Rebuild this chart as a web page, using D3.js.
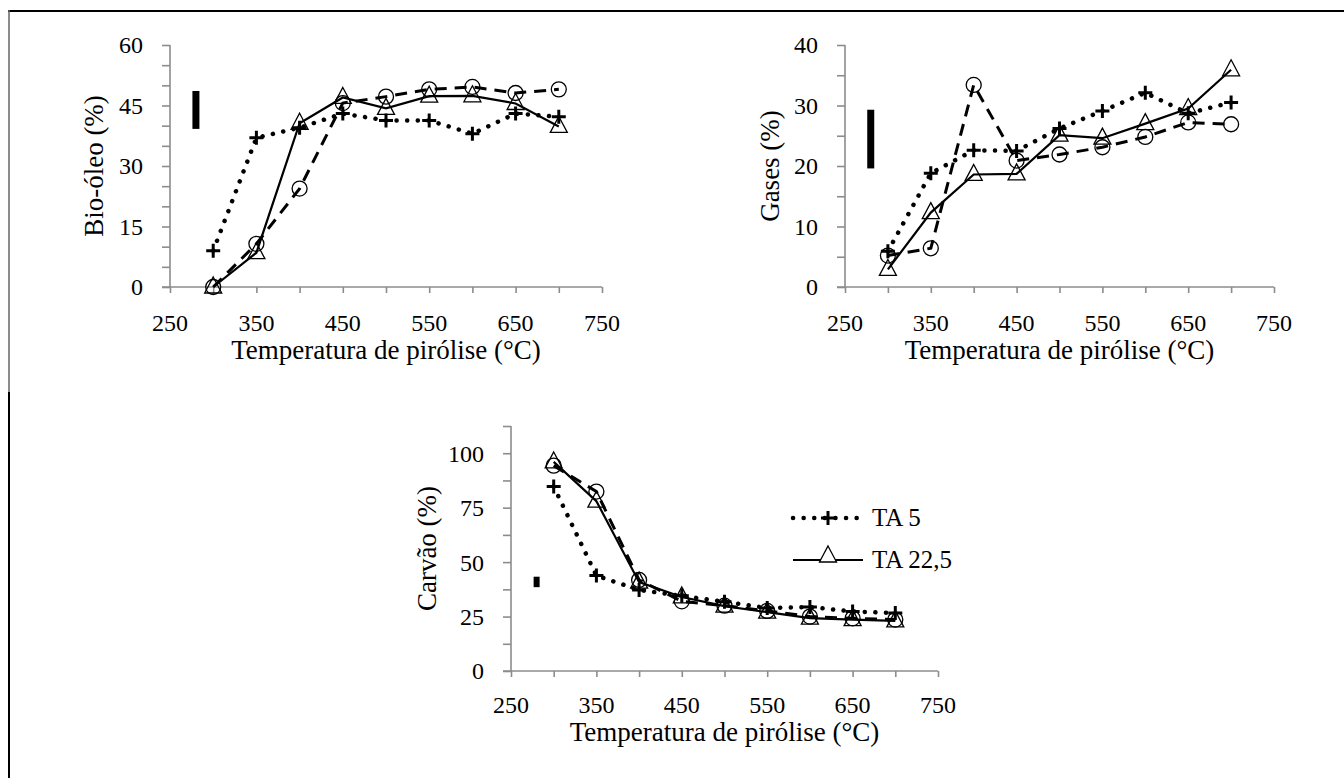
<!DOCTYPE html>
<html>
<head>
<meta charset="utf-8">
<script src="https://cdn.jsdelivr.net/npm/d3@7"></script>
<style>
  body { margin: 0; background: #fff; }
  text { font-family: "Liberation Serif", "Times New Roman", serif; fill: #000; }
</style>
</head>
<body>
<div id="chart"></div>
<script>
// temperatures (x values) shared by all panels
var temps = [300, 350, 400, 450, 500, 550, 600, 650, 700];

// Bio-óleo (%)
var bioTA5  = [9, 37, 39.5, 43, 41.3, 41.3, 38, 43, 42.2];
var bioTA22 = [0, 8.5, 40.6, 47, 44.3, 47.3, 47.4, 45.5, 39.8];
var bioTA40 = [0, 10.7, 24.4, 45.6, 47.2, 49, 49.6, 48.1, 49];

// Gases (%)
var gasTA5  = [5.9, 18.8, 22.6, 22.5, 26.2, 29.1, 32.1, 28.7, 30.5];
var gasTA22 = [2.9, 12.3, 18.6, 18.7, 25.1, 24.6, 27, 29.5, 35.9];
var gasTA40 = [5.2, 6.4, 33.4, 20.9, 21.9, 23.1, 24.8, 27.2, 26.9];

// Carvão (%)
var charTA5  = [84.7, 43.8, 37.2, 34.5, 31.8, 28.9, 29.4, 27.3, 26.6];
var charTA22 = [96, 78, 40.8, 34, 29.8, 27, 24.3, 23.6, 23];
var charTA40 = [94.3, 82.4, 41.8, 32, 30, 27.6, 25, 24.2, 23.6];

// vertical bars drawn at the left of each plot [x, low, high]
var bioBar  = [280, 39.2, 48.6];
var gasBar  = [280, 19.6, 29.3];
var charBar = [280, 38.5, 43.3];

var xTicks = [250, 350, 450, 550, 650, 750];
var legendNames = ["TA 5", "TA 22,5"];

var svg = d3.select("#chart").append("svg")
    .attr("width", 1344)
    .attr("height", 778);

// outer frame (top + left edges only)
svg.append("line").attr("x1", 8).attr("x2", 1344).attr("y1", 11).attr("y2", 11)
    .attr("stroke", "#000").attr("stroke-width", 2);
svg.append("line").attr("x1", 9).attr("x2", 9).attr("y1", 10).attr("y2", 392)
    .attr("stroke", "#666").attr("stroke-width", 1.5);
svg.append("line").attr("x1", 9).attr("x2", 9).attr("y1", 392).attr("y2", 778)
    .attr("stroke", "#000").attr("stroke-width", 2);

function panel(opt) {
    var x = d3.scaleLinear().domain([250, 750]).range([opt.x0, opt.x1]);
    var y = d3.scaleLinear().domain([0, opt.ymax]).range([opt.y0, opt.y1]);
    var g = svg.append("g");

    // x axis: ticks every 50, labels every 100
    var xAxis = d3.axisBottom(x)
        .tickValues(d3.range(250, 751, 50))
        .tickSize(6)
        .tickFormat("");
    g.append("g")
        .attr("transform", "translate(0," + opt.y0 + ")")
        .call(xAxis)
        .call(function(s) {
            s.select(".domain").attr("stroke", "#8c8c8c").attr("stroke-width", 1.6)
                .attr("d", "M" + (opt.x0 - 8) + ",0H" + opt.x1);
            s.selectAll(".tick line").attr("stroke", "#8c8c8c").attr("stroke-width", 1.6);
        });
    g.selectAll(".xlab").data(xTicks).enter().append("text")
        .attr("x", function(d) { return x(d); })
        .attr("y", opt.labY)
        .attr("text-anchor", "middle")
        .style("font-size", "24px")
        .text(function(d) { return d; });
    g.append("text")
        .attr("x", (opt.x0 + opt.x1) / 2)
        .attr("y", opt.titleY)
        .attr("text-anchor", "middle")
        .style("font-size", "27px")
        .text("Temperatura de pirólise (°C)");

    // y axis: minor ticks + labelled ticks
    var yAxis = d3.axisLeft(y)
        .tickValues(d3.range(0, opt.ymax + 0.001, opt.ystep))
        .tickSize(8)
        .tickFormat("");
    g.append("g")
        .attr("transform", "translate(" + opt.x0 + ",0)")
        .call(yAxis)
        .call(function(s) {
            s.select(".domain").attr("stroke", "#8c8c8c").attr("stroke-width", 1.6)
                .attr("d", "M0," + opt.y1 + "V" + opt.y0);
            s.selectAll(".tick line").attr("stroke", "#8c8c8c").attr("stroke-width", 1.6);
        });
    g.selectAll(".ylab").data(d3.range(0, opt.ymax + 0.001, opt.ylabStep)).enter().append("text")
        .attr("x", opt.x0 - 27)
        .attr("y", function(d) { return y(d); })
        .attr("dy", "0.35em")
        .attr("text-anchor", "end")
        .style("font-size", "24px")
        .text(function(d) { return d; });
    g.append("text")
        .attr("transform", "translate(" + opt.ytitleX + "," + (opt.y0 + opt.y1) / 2 + ") rotate(-90)")
        .attr("text-anchor", "middle")
        .style("font-size", "27px")
        .text(opt.ytitle);

    // bar
    g.append("rect")
        .attr("x", x(opt.bar[0]) - opt.barW / 2)
        .attr("y", y(opt.bar[2]))
        .attr("width", opt.barW)
        .attr("height", y(opt.bar[1]) - y(opt.bar[2]))
        .attr("fill", "#000");

    var line = d3.line()
        .x(function(d) { return x(d[0]); })
        .y(function(d) { return y(d[1]); });

    // dashed - circles
    var s3 = d3.zip(temps, opt.s3);
    g.append("path").datum(s3).attr("d", line)
        .attr("fill", "none").attr("stroke", "#000").attr("stroke-width", 3)
        .attr("stroke-dasharray", "12,8");
    g.selectAll(".circ").data(s3).enter().append("circle")
        .attr("cx", function(d) { return x(d[0]); })
        .attr("cy", function(d) { return y(d[1]); })
        .attr("r", 7.5)
        .attr("fill", "none").attr("stroke", "#000").attr("stroke-width", 1.3);

    // solid - triangles
    var s2 = d3.zip(temps, opt.s2);
    g.append("path").datum(s2).attr("d", line)
        .attr("fill", "none").attr("stroke", "#000").attr("stroke-width", 2.2);
    g.selectAll(".tri").data(s2).enter().append("path")
        .attr("d", triangle)
        .attr("transform", function(d) { return "translate(" + x(d[0]) + "," + y(d[1]) + ")"; })
        .attr("fill", "none").attr("stroke", "#000").attr("stroke-width", 1.3);

    // dotted - plus
    var s1 = d3.zip(temps, opt.s1);
    g.append("path").datum(s1).attr("d", line)
        .attr("fill", "none").attr("stroke", "#000").attr("stroke-width", 4.5)
        .attr("stroke-linecap", "round")
        .attr("stroke-dasharray", "0.1,10.5");
    g.selectAll(".plus").data(s1).enter().append("path")
        .attr("d", plus)
        .attr("transform", function(d) { return "translate(" + x(d[0]) + "," + y(d[1]) + ")"; })
        .attr("fill", "none").attr("stroke", "#000").attr("stroke-width", 3);

    return g;
}

var triangle = "M0,-10L8.5,6H-8.5Z";
var plus = "M-7,0H7M0,-7V7";

panel({ x0: 170, x1: 602, y0: 287, y1: 45, ymax: 60, ystep: 5, ylabStep: 15,
        labY: 331, titleY: 359, ytitle: "Bio-óleo (%)", ytitleX: 103,
        bar: bioBar, barW: 7, s1: bioTA5, s2: bioTA22, s3: bioTA40 });

panel({ x0: 845, x1: 1274, y0: 287, y1: 45, ymax: 40, ystep: 5, ylabStep: 10,
        labY: 331, titleY: 359, ytitle: "Gases (%)", ytitleX: 779,
        bar: gasBar, barW: 7, s1: gasTA5, s2: gasTA22, s3: gasTA40 });

var p3 = panel({ x0: 511, x1: 938, y0: 671, y1: 426, ymax: 112.5, ystep: 12.5, ylabStep: 25,
        labY: 713, titleY: 741, ytitle: "Carvão (%)", ytitleX: 436,
        bar: charBar, barW: 6, s1: charTA5, s2: charTA22, s3: charTA40 });

// legend (inside the Carvão panel)
var lg = p3.append("g").attr("transform", "translate(793,518)");
lg.append("line").attr("x1", 0).attr("x2", 70).attr("y1", 0).attr("y2", 0)
    .attr("stroke", "#000").attr("stroke-width", 4.5)
    .attr("stroke-linecap", "round").attr("stroke-dasharray", "0.1,10.5");
lg.append("path").attr("d", plus).attr("transform", "translate(35,0)")
    .attr("fill", "none").attr("stroke", "#000").attr("stroke-width", 3);
lg.append("line").attr("x1", 0).attr("x2", 70).attr("y1", 42).attr("y2", 42)
    .attr("stroke", "#000").attr("stroke-width", 2.2);
lg.append("path").attr("d", triangle).attr("transform", "translate(35,38)")
    .attr("fill", "#fff").attr("stroke", "#000").attr("stroke-width", 1.3);
lg.selectAll(".lt").data(legendNames).enter().append("text")
    .attr("x", 79)
    .attr("y", function(d, i) { return i * 42; })
    .attr("dy", "0.32em")
    .style("font-size", "25px")
    .text(function(d) { return d; });
</script>
</body>
</html>
